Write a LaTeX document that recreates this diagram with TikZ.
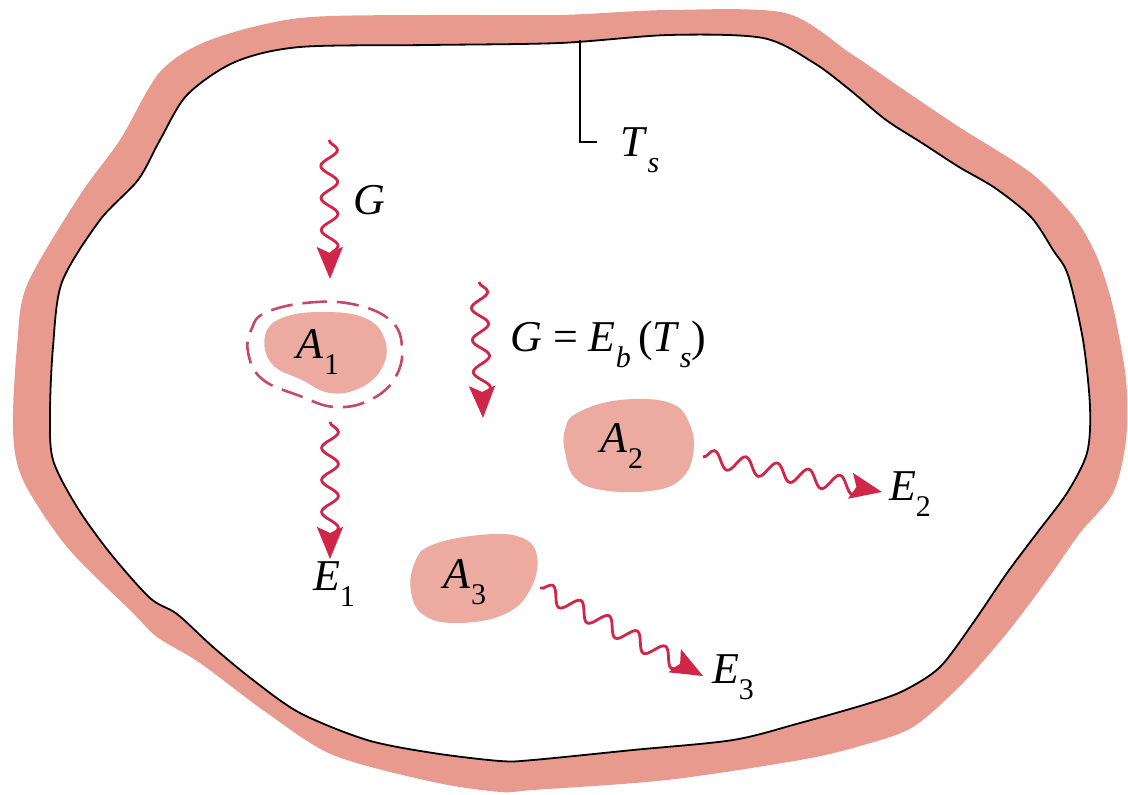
\documentclass[tikz,border=0pt]{standalone}
\usepackage{fontspec}
\setmainfont{Liberation Serif}
\usetikzlibrary{decorations.pathmorphing,arrows.meta}
\definecolor{wallpink}{HTML}{E99A8F}
\definecolor{blobpink}{HTML}{EDAAA0}
\definecolor{wavered}{HTML}{D02748}
\definecolor{dashpink}{HTML}{C44A68}
\newcommand\lbsub[1]{\raisebox{-0.36em}{\fontsize{15}{15}\selectfont #1}}
\begin{document}
\begin{tikzpicture}[x=0.5pt,y=-0.5pt,
  lbl/.style={font=\fontsize{22}{22}\selectfont, inner sep=0pt},
  wave/.style={draw=wavered, line width=1.4pt,
    decoration={snake, amplitude=4.2pt, segment length=16pt, post length=6pt},
    decorate, -{Stealth[length=16pt,width=13pt,inset=3pt,fill=wavered]}},
  blob/.style={fill=blobpink},
  dashring/.style={draw=dashpink, line width=1.3pt, dash pattern=on 11pt off 5pt}]
\fill[white] (0,0) rectangle (1128,795);
\useasboundingbox (0,0) rectangle (1128,795);
% wall
\fill[wallpink] plot[smooth cycle] coordinates {
 (300,18) (430,15) (560,15) (669,10) (785,13) (850,53) (904,90) (959,127)
 (1031,173) (1074,217) (1097,257) (1113,307) (1126,380) (1126,440) (1113,493)
 (1080,533) (1047,580) (1007,633) (963,683) (913,727) (860,746) (800,760)
 (667,780) (533,790) (500,792) (433,782) (333,755) (267,713) (200,663)
 (157,637) (133,613) (67,547) (23,480) (13,430) (17,347) (27,285) (80,195)
 (120,140) (160,72) (210,40)};
\filldraw[fill=white, draw=black, line width=0.9pt] plot[smooth cycle] coordinates {
 (300,47) (430,45) (560,43) (669,35) (763,38) (814,63) (850,90) (886,120)
 (922,143) (959,167) (995,188) (1031,217) (1053,250) (1068,275) (1083,340)
 (1090,407) (1087,453) (1067,493) (1037,533) (1007,573) (973,623) (940,667)
 (905,690) (870,703) (800,723) (733,740) (633,750) (533,760) (500,761)
 (433,753) (367,740) (300,713) (253,680) (213,647) (177,614) (150,598)
 (110,553) (77,507) (53,460) (50,413) (53,347) (62,282) (100,220) (138,180)
 (160,140) (187,95) (235,62)};
% T_s marker
\coordinate (tstop) at (580,40);
\coordinate (tsbend) at (580,142);
\coordinate (tsend) at (597,142);
\draw[line width=1pt] (tstop) -- (tsbend) -- (tsend);
\node[lbl] (Ts) at (640,150) {\textit{T}\lbsub{\textit{s}}};
% blobs
\fill[blob] plot[smooth cycle, tension=0.7] coordinates {
 (282,318) (322,312) (365,318) (385,340) (382,368) (360,388) (330,393)
 (302,380) (272,364) (265,336)};
\draw[dashring] plot[smooth cycle, tension=0.7] coordinates {
 (265,313) (305,303) (352,304) (390,320) (402,347) (395,378) (370,400)
 (335,407) (300,396) (262,379) (248,352) (252,328)};
\fill[blob] plot[smooth cycle, tension=0.7] coordinates {
 (577,413) (620,400) (670,403) (690,425) (693,455) (680,480) (650,491)
 (602,490) (575,478) (565,452) (565,430)};
\fill[blob] plot[smooth cycle, tension=0.7] coordinates {
 (432,545) (480,535) (520,537) (537,556) (530,590) (505,614) (460,623)
 (425,616) (411,592) (415,562)};
\node[lbl] (A1) at (318,352) {\textit{A}\lbsub{1}};
\node[lbl] (A2) at (622,446) {\textit{A}\lbsub{2}};
\node[lbl] (A3) at (465,582) {\textit{A}\lbsub{3}};
% waves
\coordinate (g1s) at (329,140); \coordinate (g1e) at (330,279);
\coordinate (g2s) at (479,282); \coordinate (g2e) at (483,418);
\coordinate (e1s) at (330,422); \coordinate (e1e) at (330,559);
\coordinate (e2s) at (703,457); \coordinate (e2e) at (882,492);
\coordinate (e3s) at (540,588); \coordinate (e3e) at (703,676);
\draw[wave] (g1s) -- (g1e);
\draw[wave] (g2s) -- (g2e);
\draw[wave] (e1s) -- (e1e);
\draw[wave] (e2s) -- (e2e);
\draw[wave] (e3s) -- (e3e);
% labels
\node[lbl] (G1) at (369,200) {\textit{G}};
\node[lbl, anchor=base west] (G2) at (510,352) {\textit{G} = \textit{E}\lbsub{\textit{b}}\,(\textit{T}\lbsub{\textit{s}})};
\node[lbl] (E1) at (334,584) {\textit{E}\lbsub{1}};
\node[lbl] (E2) at (910,494) {\textit{E}\lbsub{2}};
\node[lbl] (E3) at (733,677) {\textit{E}\lbsub{3}};
\end{tikzpicture}
\end{document}
